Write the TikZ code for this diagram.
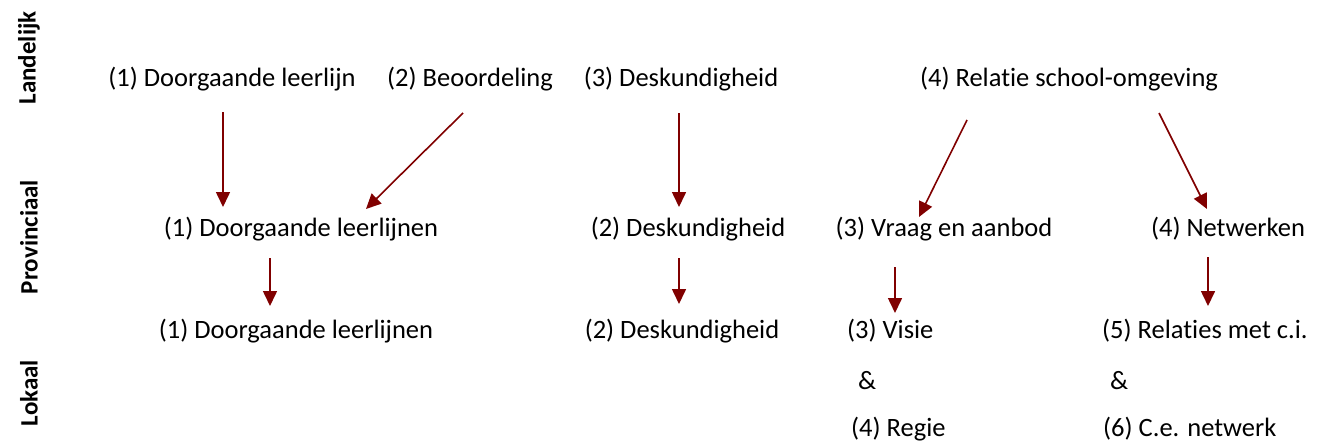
\documentclass[tikz,border=0pt]{standalone}
\usepackage{fontspec}
\setmainfont[Ligatures={NoCommon,NoDiscretionary}]{Carlito}
\usetikzlibrary{arrows.meta}
\definecolor{pijlrood}{RGB}{128,0,0}
\begin{document}
\begin{tikzpicture}[x=1pt,y=-1pt,
  every node/.style={inner sep=0pt,font=\fontsize{26.5}{31}\selectfont},
  niveau/.style={rotate=90,font=\fontsize{25}{30}\selectfont\bfseries},
  pijl/.style={draw=pijlrood,line width=1.6pt,-{Triangle[length=15pt,width=14pt]}}]
\useasboundingbox (0,0) rectangle (1319,444);
% niveaus
\node [niveau] (landelijk) at (29,58) {Landelijk};
\node [niveau] (provinciaal) at (29,237) {Provinciaal};
\node [niveau] (lokaal) at (29,393) {Lokaal};
% landelijk
\node (lLeerlijn) at (232,79) {(1) Doorgaande leerlijn};
\node (lBeoordeling) at (470,79) {(2) Beoordeling};
\node (lDeskundig) at (681,79) {(3) Deskundigheid};
\node (lRelatie) at (1069,79) {(4) Relatie school-omgeving};
% provinciaal
\node (pLeerlijnen) at (301,229) {(1) Doorgaande leerlijnen};
\node (pDeskundig) at (688,229) {(2) Deskundigheid};
\node (pVraag) at (944,229) {(3) Vraag en aanbod};
\node (pNetwerken) at (1228,229) {(4) Netwerken};
% lokaal
\node (oLeerlijnen) at (296,331) {(1) Doorgaande leerlijnen};
\node (oDeskundig) at (682,331) {(2) Deskundigheid};
\node [anchor=west] (oVisie) at (847,331) {(3) Visie};
\node [anchor=west] (oEn1) at (858,381) {\&};
\node [anchor=west] (oRegie) at (851,429) {(4) Regie};
\node [anchor=west] (oRelaties) at (1102,331) {(5) Relaties met c.i.};
\node [anchor=west] (oEn2) at (1110,381) {\&};
\node [anchor=west] (oNetwerk) at (1103,429) {(6) C.e. netwerk};
% pijlen
\coordinate (a1) at (223,112); \coordinate (b1) at (223,207);
\coordinate (a2) at (463,113); \coordinate (b2) at (366,209);
\coordinate (a3) at (679,113); \coordinate (b3) at (679,207);
\coordinate (a4) at (967,120); \coordinate (b4) at (919,217);
\coordinate (a5) at (1159,113); \coordinate (b5) at (1207,209);
\coordinate (a6) at (270,258); \coordinate (b6) at (270,306);
\coordinate (a7) at (679,258); \coordinate (b7) at (679,304);
\coordinate (a8) at (895,267); \coordinate (b8) at (895,313);
\coordinate (a9) at (1208,257); \coordinate (b9) at (1208,306);
\foreach \i in {1,...,9}
  \draw [pijl] (a\i) -- (b\i);
\end{tikzpicture}
\end{document}
